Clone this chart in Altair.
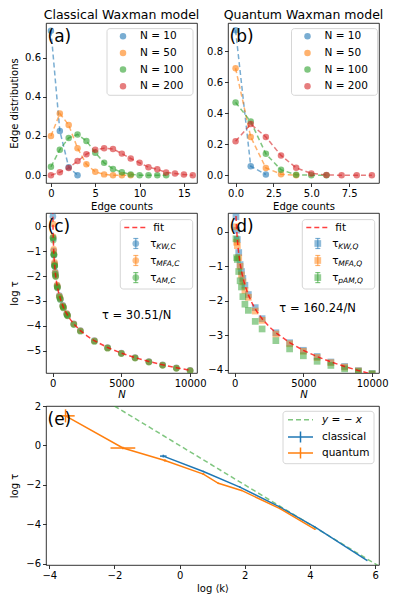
import altair as alt
import pandas as pd

FONT = "DejaVu Sans"
BLUE, ORANGE, GREEN, RED = "#1f77b4", "#ff7f0e", "#2ca02c", "#d62728"
COLORS = [BLUE, ORANGE, GREEN, RED]

# ---------------- panel (a): classical edge distributions ----------------
A_LABELS = ["N = 10", "N = 50", "N = 100", "N = 200"]
A_N10 = [0.738, 0.226, 0.041, 0.0]
A_N50 = [0.200, 0.315, 0.256, 0.138, 0.056, 0.017, 0.004, 0.0, 0.0, 0.0]
A_N100 = [0.043, 0.130, 0.190, 0.208, 0.175, 0.115, 0.063, 0.032, 0.015, 0.004, 0.0, 0.0, 0.0, 0.0]
A_N200 = [0.0, 0.015, 0.037, 0.072, 0.107, 0.130, 0.137, 0.134, 0.110, 0.085, 0.063, 0.041,
          0.030, 0.014, 0.008, 0.003, 0.0]
A_XTICKS = [0, 5, 10, 15]
A_YTICKS = [0.0, 0.2, 0.4, 0.6]

# ---------------- panel (b): quantum edge distributions ----------------
B_N10 = [0.935, 0.058, 0.005]
B_N50 = [0.690, 0.247, 0.047, 0.007, 0.0]
B_N100 = [0.470, 0.346, 0.138, 0.035, 0.003, 0.0, 0.0]
B_N200 = [0.220, 0.330, 0.247, 0.128, 0.048, 0.012, 0.002, 0.0, 0.0, 0.0]
B_XTICKS = [0.0, 2.5, 5.0, 7.5]
B_YTICKS = [0.0, 0.2, 0.4, 0.6, 0.8]

# ---------------- panel (c): classical log tau vs N ----------------
C_N = [20, 50, 80, 100, 140, 150, 190, 220, 330, 350, 490, 560, 740, 790, 1030, 1090,
       1540, 2020, 3040, 4000, 5000, 6000, 7000, 8000, 9000, 10000]
C_KW = [0.40, -0.48, -0.98, -1.15, -1.50, -1.57, -1.84, -1.98, -2.38, -2.45, -2.78, -2.92,
        -3.18, -3.25, -3.52, -3.58, -3.92, -4.19, -4.60, -4.88, -5.10, -5.28, -5.44, -5.57,
        -5.69, -5.79]
C_MFA = [0.10, -0.42, -0.92, -1.10, -1.45, -1.55, -1.86, -2.00, -2.36, -2.44, -2.80, -2.90,
         -3.20, -3.26, -3.51, -3.59, -3.93, -4.20, -4.61, -4.89, -5.11, -5.29, -5.45, -5.58,
         -5.70, -5.80]
C_AM = [-0.45, -0.55, -1.12, -1.15, -1.58, -1.60, -1.92, -2.02, -2.42, -2.47, -2.85, -2.94,
        -3.22, -3.28, -3.55, -3.60, -3.95, -4.22, -4.63, -4.90, -5.12, -5.30, -5.46, -5.59,
        -5.71, -5.81]
C_FIT_COEF = 30.51
C_FIT_N = [15, 18, 22, 26, 30, 35, 40, 50, 60, 75, 90, 110, 130, 160, 200, 250, 300, 400,
           500, 650, 800, 1000, 1300, 1600, 2000, 2500, 3000, 4000, 5000, 6000, 7000, 8000,
           9000, 10000]
C_LABELS = ["KW,C", "MFA,C", "AM,C"]

# ---------------- panel (d): quantum log tau vs N ----------------
D_N = [100, 150, 200, 300, 400, 500, 600, 750, 1000, 1500, 2000, 3000, 4000, 5000, 6000,
       7000, 8000, 9000, 10000]
D_KW = [0.44, 0.05, -0.22, -0.60, -0.95, -1.15, -1.35, -1.55, -1.82, -2.20, -2.52, -2.93,
        -3.22, -3.44, -3.62, -3.78, -3.91, -4.03, -4.12]
D_MFA = [0.15, -0.30, -0.40, -0.75, -1.00, -1.25, -1.45, -1.70, -1.90, -2.30, -2.57, -2.97,
         -3.25, -3.47, -3.65, -3.80, -3.93, -4.04, -4.13]
D_PAM = [-0.20, -0.75, -0.80, -1.15, -1.42, -1.60, -1.88, -2.10, -2.28, -2.60, -2.82, -3.16,
         -3.40, -3.60, -3.76, -3.88, -3.98, -4.06, -4.12]
D_FIT_COEF = 160.24
D_FIT_N = [80, 90, 100, 120, 140, 170, 200, 250, 300, 400, 500, 650, 800, 1000, 1300, 1600,
           2000, 2500, 3000, 4000, 5000, 6000, 7000, 8000, 9000, 10000]
D_LABELS = ["KW,Q", "MFA,Q", "pAM,Q"]

N_TICKS = [0, 5000, 10000]

# ---------------- panel (e): log tau vs log <k> ----------------
E_CL_X = [-0.50, 0.73, 1.85, 3.08, 4.16, 5.75]
E_CL_Y = [-0.54, -1.32, -2.11, -3.13, -4.14, -5.83]
E_CL_XERR = [0.10, 0.02, 0.02, 0.01, 0.01, 0.01]
E_CL_YERR = [0.07, 0.02, 0.02, 0.01, 0.01, 0.01]
E_QU_X = [-3.50, -1.74, -0.45, 0.73, 1.19, 1.90, 3.08, 4.16]
E_QU_Y = [1.50, -0.13, -0.76, -1.45, -1.92, -2.28, -3.20, -4.25]
E_QU_XERR = [0.28, 0.38, 0.04, 0.03, 0.02, 0.02, 0.01, 0.01]
E_QU_YERR = [0.33, 0.06, 0.05, 0.03, 0.02, 0.02, 0.01, 0.01]
E_IDENT_X = [-4.1, 6.12]
E_XTICKS = [-4, -2, 0, 2, 4, 6]
E_YTICKS = [-6, -4, -2, 0, 2]

W, H = 151, 160
WE, HE = 333, 159
ONE = pd.DataFrame({"d": [0]})


# ---------------- helpers for hand-drawn legends / labels ----------------
def box(x0, x1, y0, y1):
    return alt.Chart(ONE).mark_rect(fill="white", fillOpacity=0.8, stroke="#cccccc",
                                    strokeWidth=0.8, cornerRadius=3).encode(
        x=alt.value(x0), x2=alt.value(x1), y=alt.value(y0), y2=alt.value(y1))


def txt(x, y, s, size=10.5, style="normal", baseline="middle", align="left"):
    return alt.Chart(ONE).mark_text(text=s, font=FONT, fontSize=size, fontStyle=style,
                                    align=align, baseline=baseline, color="black").encode(
        x=alt.value(x), y=alt.value(y))


def hrule(x0, x1, y, color, dash=None, width=1.5, opacity=1.0):
    kw = dict(color=color, strokeWidth=width, opacity=opacity)
    if dash:
        kw["strokeDash"] = dash
    return alt.Chart(ONE).mark_rule(**kw).encode(x=alt.value(x0), x2=alt.value(x1), y=alt.value(y))


def vrule(x, y0, y1, color, width=1.5, opacity=1.0):
    return alt.Chart(ONE).mark_rule(color=color, strokeWidth=width, opacity=opacity).encode(
        x=alt.value(x), y=alt.value(y0), y2=alt.value(y1))


def sym(x, y, color, shape="circle", size=40, opacity=0.6):
    return alt.Chart(ONE).mark_point(shape=shape, filled=True, size=size, color=color,
                                     opacity=opacity, strokeWidth=0).encode(
        x=alt.value(x), y=alt.value(y))


def panel_label(s):
    return txt(1.5, 19, s, size=17, baseline="alphabetic")


def panel_title(s, width):
    return txt(width / 2, -4.4, s, size=12.5, baseline="alphabetic", align="center")


# ---------------- distribution panels ----------------
def dist_df(series):
    rows = []
    for lab, col, vals in zip(A_LABELS, COLORS, series):
        for k, v in enumerate(vals):
            rows.append({"k": k, "p": v, "s": lab, "c": col})
    return pd.DataFrame(rows)


def dist_panel(series, title, xdom, xticks, xfmt, ydom, yticks, ytitle, label, bx):
    df = dist_df(series)
    xa = dict(values=xticks, format=xfmt, title="Edge counts", titlePadding=3)
    ya = dict(values=yticks, format=".1f")
    if ytitle:
        ya.update(title=ytitle, titleX=-27, titleY=H / 2)
    else:
        ya.update(title=None)
    x = alt.X("k:Q", scale=alt.Scale(domain=xdom, nice=False, zero=False), axis=alt.Axis(**xa))
    y = alt.Y("p:Q", scale=alt.Scale(domain=ydom, nice=False, zero=False), axis=alt.Axis(**ya))
    col = alt.Color("c:N", scale=None)
    base = alt.Chart(df)
    lines = base.mark_line(strokeDash=[5, 3], strokeWidth=1.5, opacity=0.6, clip=True).encode(
        x=x, y=y, color=col, detail="s:N")
    pts = base.mark_circle(size=42, opacity=0.6, clip=True).encode(x=x, y=y, color=col)
    layers = [lines, pts, panel_label(label), panel_title(title, W)]
    layers.append(box(bx, bx + 86, 5.6, 72.3))
    rows_y = [13.3, 30, 46.6, 63.3]
    for lab, c, ry in zip(A_LABELS, COLORS, rows_y):
        layers.append(sym(bx + 16, ry, c, size=42))
        layers.append(txt(bx + 33, ry, lab))
    return alt.layer(*layers).properties(width=W, height=H)


pa = dist_panel([A_N10, A_N50, A_N100, A_N200], "Classical Waxman model", [-0.56, 16.48],
                A_XTICKS, "d", [-0.04, 0.777], A_YTICKS, "Edge distributions", "(a)", 61)
pb = dist_panel([B_N10, B_N50, B_N100, B_N200], "Quantum Waxman model", [-0.5, 9.47],
                B_XTICKS, ".1f", [-0.05, 0.982], B_YTICKS, None, "(b)", 63.5)


# ---------------- tau panels ----------------
def tau_panel(nvals, series, labels, coef, fit_n, ydom, yticks, ytitle, label, shape,
              formula, fx, fy):
    rows = []
    for lab, c, vals in zip(labels, [BLUE, ORANGE, GREEN], series):
        for n, v in zip(nvals, vals):
            rows.append({"N": n, "t": v, "s": lab, "c": c})
    df = pd.DataFrame(rows)
    xa = alt.Axis(values=N_TICKS, format="d", title="N", titleFontStyle="italic", titlePadding=1)
    ya_kw = dict(values=yticks, format="d")
    if ytitle:
        ya_kw.update(title=ytitle, titleX=-27, titleY=H / 2)
    else:
        ya_kw.update(title=None)
    ya = alt.Axis(**ya_kw)
    xs = alt.Scale(domain=[-480, 10500], nice=False, zero=False)
    ys = alt.Scale(domain=ydom, nice=False, zero=False)
    x = alt.X("N:Q", scale=xs, axis=xa)
    y = alt.Y("t:Q", scale=ys, axis=ya)
    pts = alt.Chart(df).mark_point(shape=shape, filled=True, size=45, opacity=0.5,
                                   strokeWidth=0, clip=True).encode(
        x=x, y=y, color=alt.Color("c:N", scale=None))
    fit = alt.Chart(pd.DataFrame({"N": fit_n})).transform_calculate(
        t=f"log({coef} / datum.N)").mark_line(
        color="red", strokeDash=[5, 3], strokeWidth=1.5, opacity=0.75, clip=True).encode(
        x=x, y=y)
    layers = [pts, fit, panel_label(label), txt(fx, fy, formula, size=11.5, baseline="alphabetic")]
    bx = 74.3
    layers.append(box(bx, bx + 72.4, 6.6, 76))
    rows_y = [14.6, 30.5, 47.5, 64.6]
    layers.append(hrule(bx + 4, bx + 27, rows_y[0], "red", dash=[5, 3], opacity=0.75))
    layers.append(txt(bx + 33, rows_y[0], "fit"))
    for lab, c, ry in zip(labels, [BLUE, ORANGE, GREEN], rows_y[1:]):
        layers.append(vrule(bx + 15.5, ry - 5, ry + 5, c, width=1.2, opacity=0.6))
        layers.append(hrule(bx + 13, bx + 18, ry - 5, c, width=1.2, opacity=0.6))
        layers.append(hrule(bx + 13, bx + 18, ry + 5, c, width=1.2, opacity=0.6))
        layers.append(sym(bx + 15.5, ry, c, shape=shape, size=45, opacity=0.5))
        layers.append(txt(bx + 30, ry, "τ", size=10.5))
        layers.append(txt(bx + 36, ry + 3, lab, size=7.5, style="italic"))
    return alt.layer(*layers).properties(width=W, height=H)


pc = tau_panel(C_N, [C_KW, C_MFA, C_AM], C_LABELS, C_FIT_COEF, C_FIT_N, [-5.9, 0.54],
               [-5, -4, -3, -2, -1, 0], "log τ", "(c)", "circle", "τ = 30.51/N", 56, 105.6)
pd_ = tau_panel(D_N, [D_KW, D_MFA, D_PAM], D_LABELS, D_FIT_COEF, D_FIT_N, [-4.1, 0.55],
                [-4, -3, -2, -1, 0], None, "(d)", "square", "τ = 160.24/N", 51.3, 99)

# ---------------- panel (e) ----------------
e_rows = []
for name, col, xs_, ys_, xe, ye in [("classical", BLUE, E_CL_X, E_CL_Y, E_CL_XERR, E_CL_YERR),
                                    ("quantum", ORANGE, E_QU_X, E_QU_Y, E_QU_XERR, E_QU_YERR)]:
    for i, (a, b, c, d) in enumerate(zip(xs_, ys_, xe, ye)):
        e_rows.append({"i": i, "x": a, "y": b, "xlo": a - c, "xhi": a + c,
                       "ylo": b - d, "yhi": b + d, "s": name, "c": col})
edf = pd.DataFrame(e_rows)
exs = alt.Scale(domain=[-4.1, 6.12], nice=False, zero=False)
eys = alt.Scale(domain=[-6.06, 2.0], nice=False, zero=False)
exa = alt.Axis(values=E_XTICKS, format="d", title="log ⟨k⟩", titlePadding=3)
eya = alt.Axis(values=E_YTICKS, format="d", title="log τ", titleX=-27, titleY=HE / 2)
ecol = alt.Color("c:N", scale=None)
ident = alt.Chart(pd.DataFrame({"x": E_IDENT_X})).transform_calculate(y="-datum.x").mark_line(
    color=GREEN, strokeDash=[5, 3], strokeWidth=1.5, opacity=0.6, clip=True).encode(
    x=alt.X("x:Q", scale=exs, axis=exa), y=alt.Y("y:Q", scale=eys, axis=eya))
ebase = alt.Chart(edf)
elines = ebase.mark_line(strokeWidth=1.5, clip=True).encode(
    x=alt.X("x:Q", scale=exs, axis=exa), y=alt.Y("y:Q", scale=eys, axis=eya),
    color=ecol, detail="s:N", order="i:Q")
exerr = ebase.mark_rule(strokeWidth=1.5, clip=True).encode(
    x=alt.X("xlo:Q", scale=exs, axis=exa), x2="xhi:Q",
    y=alt.Y("y:Q", scale=eys, axis=eya), color=ecol)
eyerr = ebase.mark_rule(strokeWidth=1.5, clip=True).encode(
    x=alt.X("x:Q", scale=exs, axis=exa), y=alt.Y("ylo:Q", scale=eys, axis=eya), y2="yhi:Q",
    color=ecol)
ebx = 237
e_layers = [ident, elines, exerr, eyerr, panel_label("(e)"), box(ebx, ebx + 91, 5.3, 57.7)]
e_layers.append(hrule(ebx + 5, ebx + 30, 13.7, GREEN, dash=[5, 3], opacity=0.6))
e_layers.append(txt(ebx + 39, 13.7, "y = − x", style="italic"))
for name, c, ry in [("classical", BLUE, 31), ("quantum", ORANGE, 47)]:
    e_layers.append(hrule(ebx + 5, ebx + 30, ry, c))
    e_layers.append(vrule(ebx + 17.5, ry - 5.5, ry + 5.5, c))
    e_layers.append(txt(ebx + 39, ry, name))
pe = alt.layer(*e_layers).properties(width=WE, height=HE)

row1 = alt.hconcat(pa, pb, spacing=31, bounds="flush")
row2 = alt.hconcat(pc, pd_, spacing=31, bounds="flush")

chart = alt.vconcat(row1, row2, pe, spacing=0).properties(
    padding={"left": 0, "top": 0, "right": 0, "bottom": 0}
).configure_view(stroke="black", strokeWidth=0.8).configure_axis(
    domain=False, grid=False, labelFont=FONT, labelFontSize=10, labelColor="black",
    titleFont=FONT, titleFontSize=10, titleFontWeight="normal", titleColor="black",
    tickSize=3.5, tickWidth=0.8, tickColor="black", labelPadding=2, labelOverlap=False
)

chart.save("out.html", embed_options={"renderer": "svg", "actions": False})
